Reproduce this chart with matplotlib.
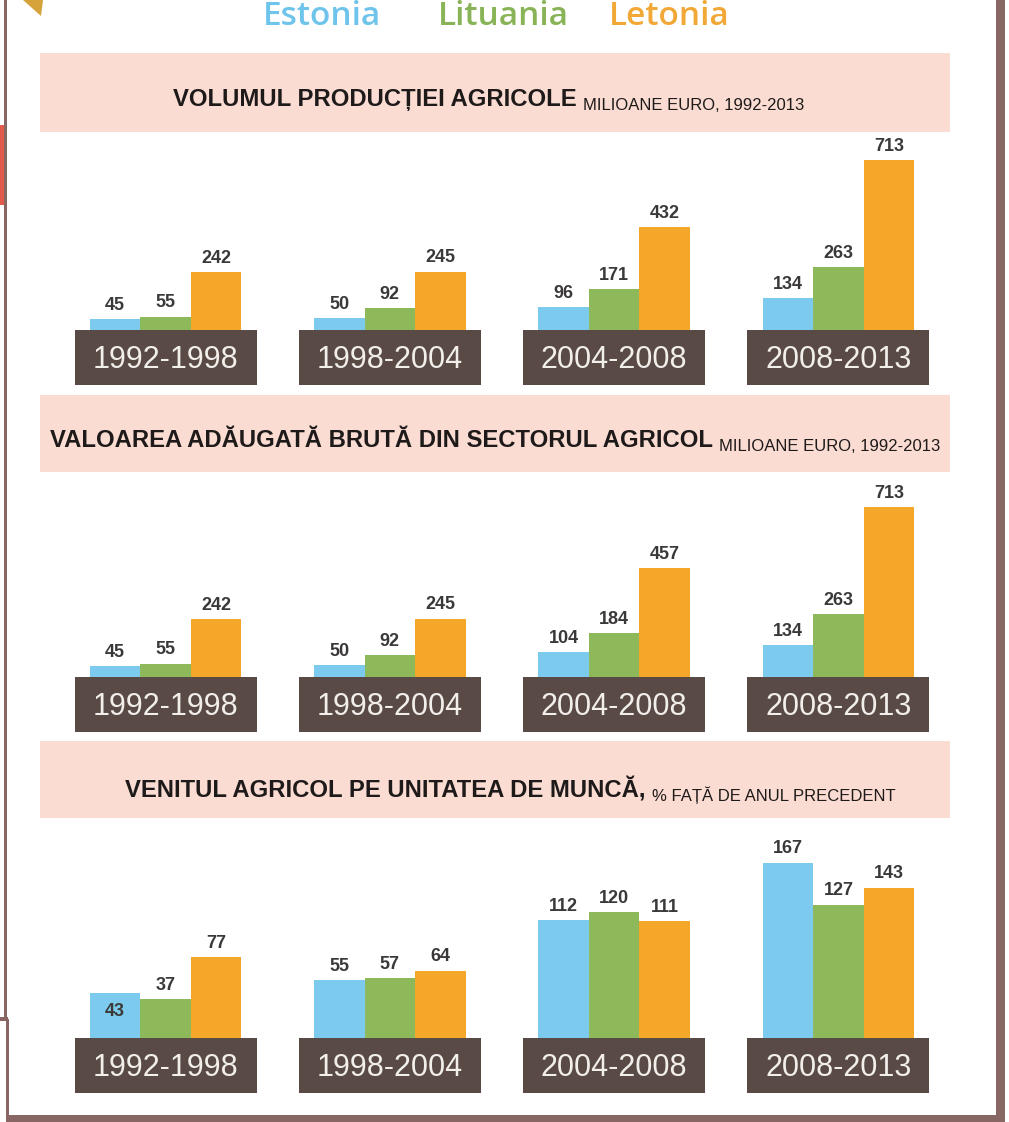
import matplotlib.pyplot as plt
from matplotlib.patches import Rectangle, Polygon


countries = ["Estonia", "Lituania", "Letonia"]
periods = ["1992-1998", "1998-2004", "2004-2008", "2008-2013"]

# volumul productiei agricole, mil. euro
volum_estonia = [45, 50, 96, 134]
volum_lituania = [55, 92, 171, 263]
volum_letonia = [242, 245, 432, 713]

# valoarea adaugata bruta, mil. euro
vab_estonia = [45, 50, 104, 134]
vab_lituania = [55, 92, 184, 263]
vab_letonia = [242, 245, 457, 713]

# venitul agricol pe unitatea de munca, %
venit_estonia = [43, 55, 112, 167]
venit_lituania = [37, 57, 120, 127]
venit_letonia = [77, 64, 111, 143]

titles = [
    ("VOLUMUL PRODUCȚIEI AGRICOLE", "MILIOANE EURO, 1992-2013"),
    ("VALOAREA ADĂUGATĂ BRUTĂ DIN SECTORUL AGRICOL", "MILIOANE EURO, 1992-2013"),
    ("VENITUL AGRICOL PE UNITATEA DE MUNCĂ,", "% FAȚĂ DE ANUL PRECEDENT"),
]

panels = [
    [volum_estonia, volum_lituania, volum_letonia],
    [vab_estonia, vab_lituania, vab_letonia],
    [venit_estonia, venit_lituania, venit_letonia],
]


colors = ["#7ccbee", "#8db95b", "#f5a72a"]
legend_colors = ["#6fc4ec", "#88b457", "#f2a836"]
box_color = "#594a45"
pink = "#fadcd2"
frame = "#876664"
sans = ["Liberation Sans", "DejaVu Sans"]

W, H = 1009, 1122

# layout in pixels (from top)
c0, step, bar_w = 165.5, 224.3, 50.5
bases = [330, 677, 1038]
px_per_unit = [0.2385, 0.2385, 1.05]
panel_h = [200, 200, 210]
bands = [(53, 132), (395, 472), (741, 818)]
title_y = [106, 447, 797]
title_cx = [375, 381, 385]


fig = plt.figure(figsize=(W / 100, H / 100), dpi=100)

bg = fig.add_axes([0, 0, 1, 1])
bg.set_xlim(0, W)
bg.set_ylim(H, 0)
bg.axis("off")

# frame
bg.add_patch(Rectangle((4, 0), 3.3, 1020, color=frame, lw=0))
bg.add_patch(Rectangle((0, 1017), 8, 4, color=frame, lw=0))
bg.add_patch(Rectangle((6, 1019), 2.5, 103, color=frame, lw=0))
bg.add_patch(Rectangle((6, 1115), 999, 7, color=frame, lw=0))
bg.add_patch(Rectangle((996, 0), 9, H, color=frame, lw=0))
bg.add_patch(Rectangle((0, 125), 4, 80, color="#e25a4c", lw=0))
bg.add_patch(Polygon([(23, 0), (43, 0), (41, 16)], color="#d6a23a", lw=0))

# legend
for name, col, x in zip(countries, legend_colors, [322, 503, 669]):
    bg.text(x, 25, name, color=col, fontsize=24, family=["Open Sans", "DejaVu Sans"],
            fontweight="semibold", ha="center", va="baseline")

for k in range(3):
    top, bottom = bands[k]
    bg.add_patch(Rectangle((40, top), 910, bottom - top, color=pink, lw=0))
    big, small = titles[k]
    t = bg.text(title_cx[k], title_y[k], big, fontsize=17.2, fontweight="bold",
                family=sans, color="#1e1a1a", ha="center", va="baseline")
    bg.annotate(small, xy=(1, 0), xycoords=t, xytext=(4.5, -1.3), textcoords="offset points",
                fontsize=12, family=sans, color="#1e1a1a", ha="left", va="bottom")

    base = bases[k]
    for i, p in enumerate(periods):
        cx = c0 + i * step
        bg.add_patch(Rectangle((cx - 91, base), 182, 55, color=box_color, lw=0))
        bg.text(cx, base + 38, p, fontsize=22, family=sans,
                color="#f2eeea", ha="center", va="baseline")

    # bars
    ax = fig.add_axes([0, (H - base) / H, 1, panel_h[k] / H])
    ax.set_xlim(-c0 / step, (W - c0) / step)
    ax.set_ylim(0, panel_h[k] / px_per_unit[k])
    ax.axis("off")
    bw = bar_w / step
    for j, series in enumerate(panels[k]):
        xs = [i + (j - 1) * bw for i in range(len(periods))]
        ax.bar(xs, series, width=bw, color=colors[j], linewidth=0)
        for i, v in enumerate(series):
            # the 43 label sits inside the bar in the original
            dy = -17 if (k == 2 and i == 0 and j == 0) else 6.8
            ax.annotate(str(v), (xs[i], v), xytext=(0, dy), textcoords="offset points",
                        ha="center", va="baseline", fontsize=13, fontweight="bold",
                        family=sans, color="#3b3838", annotation_clip=False)

fig.savefig("out.png", dpi=100)
